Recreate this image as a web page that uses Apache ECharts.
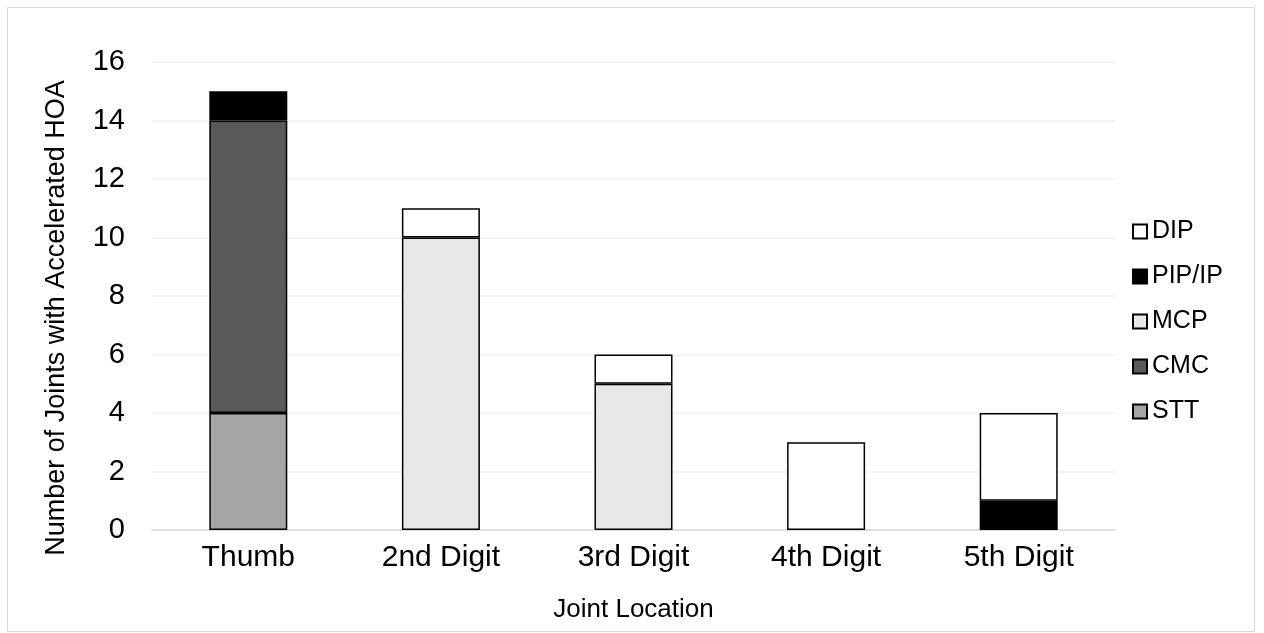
<!DOCTYPE html>
<html>
<head>
<meta charset="utf-8">
<script src="https://cdn.jsdelivr.net/npm/echarts@6/dist/echarts.min.js"></script>
<style>
  html, body { margin: 0; padding: 0; background: #fff; }
  #chart { width: 1264px; height: 633px; }
</style>
</head>
<body>
<div id="chart"></div>
<script>
// categories along the x axis
const categories = ['Thumb', '2nd Digit', '3rd Digit', '4th Digit', '5th Digit'];

// stacked segments, bottom to top
const stt = [4, 0, 0, 0, 0];
const cmc = [10, 0, 0, 0, 0];
const mcp = [0, 10, 5, 0, 0];
const pipIp = [1, 0, 0, 0, 1];
const dip = [0, 1, 1, 3, 3];

const yTicks = [0, 2, 4, 6, 8, 10, 12, 14, 16];

const FONT = '"Liberation Sans", Arial, sans-serif';

const chartDom = document.getElementById('chart');
const myChart = echarts.init(chartDom);

const colors = {
    stt: '#a5a5a5',
    cmc: '#595959',
    mcp: '#e7e7e7',
    pip: '#000000',
    dip: '#ffffff',
    grid: '#efefef',
    axis: '#d9d9d9'
};

function barSeries(name, data, color) {
    return {
        name: name,
        type: 'bar',
        stack: 'joints',
        // zero segments are left empty, like the source chart
        data: data.map(v => (v === 0 ? '-' : v)),
        barWidth: 78,
        itemStyle: {
            color: color,
            borderColor: '#000',
            borderWidth: 1.5
        }
    };
}

const option = {
    backgroundColor: '#fff',
    animation: false,
    textStyle: { fontFamily: FONT },
    grid: {
        left: 152,
        right: 149,
        top: 62,
        bottom: 103
    },
    graphic: [
        {
            type: 'rect',
            shape: { x: 7.5, y: 7.5, width: 1247, height: 624 },
            style: { fill: 'none', stroke: '#d9d9d9', lineWidth: 1 },
            silent: true
        },
        {
            type: 'text',
            x: 57,
            y: 318,
            rotation: Math.PI / 2,
            style: {
                text: 'Number of Joints with Accelerated HOA',
                fill: '#000',
                font: '27px ' + FONT,
                align: 'center',
                verticalAlign: 'middle'
            }
        }
    ],
    legend: {
        orient: 'vertical',
        left: 1132,
        top: 219,
        padding: 0,
        itemWidth: 14,
        itemHeight: 14,
        itemGap: 20,
        icon: 'rect',
        textStyle: {
            color: '#000',
            fontSize: 25,
            fontFamily: FONT,
            lineHeight: 25
        },
        data: ['DIP', 'PIP/IP', 'MCP', 'CMC', 'STT']
    },
    xAxis: {
        type: 'category',
        data: categories,
        name: 'Joint Location',
        nameLocation: 'middle',
        nameGap: 67,
        nameTextStyle: { color: '#000', fontSize: 26, fontFamily: FONT },
        axisTick: { show: false },
        axisLine: { show: true, lineStyle: { color: colors.axis, width: 1.5 } },
        axisLabel: { color: '#000', fontSize: 30, fontFamily: FONT, margin: 13 }
    },
    yAxis: {
        type: 'value',
        min: yTicks[0],
        max: yTicks[yTicks.length - 1],
        interval: yTicks[1] - yTicks[0],
        axisLine: { show: false },
        axisTick: { show: false },
        axisLabel: { color: '#000', fontSize: 29, fontFamily: FONT, margin: 27 },
        splitLine: { show: true, lineStyle: { color: colors.grid, width: 1.5 } }
    },
    series: [
        barSeries('STT', stt, colors.stt),
        barSeries('CMC', cmc, colors.cmc),
        barSeries('MCP', mcp, colors.mcp),
        barSeries('PIP/IP', pipIp, colors.pip),
        barSeries('DIP', dip, colors.dip)
    ]
};

myChart.setOption(option);
window.addEventListener('resize', () => myChart.resize());
</script>
</body>
</html>
